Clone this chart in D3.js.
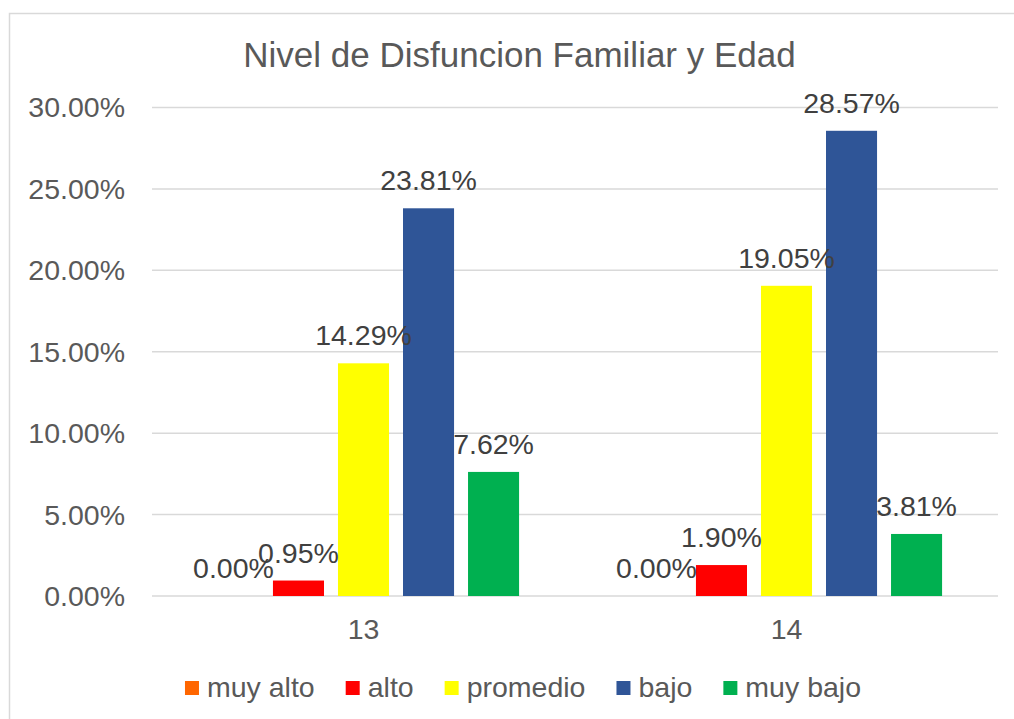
<!DOCTYPE html>
<html>
<head>
<meta charset="utf-8">
<script src="https://cdn.jsdelivr.net/npm/d3@7"></script>
<style>
  body { margin: 0; background: #fff; }
  text { font-family: "Liberation Sans", Arial, sans-serif; }
</style>
</head>
<body>
<div id="chart"></div>
<script>
const categories = ['13', '14'];
const seriesNames = ['muy alto', 'alto', 'promedio', 'bajo', 'muy bajo'];
const values13 = [0, 0.95, 14.29, 23.81, 7.62];
const values14 = [0, 1.90, 19.05, 28.57, 3.81];
const yTicks = [0, 5, 10, 15, 20, 25, 30];
const colors = ['#FF6600', '#FF0000', '#FFFF00', '#2F5597', '#00B050'];

const width = 1014;
const height = 719;
const margin = { top: 107.5, right: 16, bottom: 123, left: 152 };

const svg = d3.select('#chart')
  .append('svg')
  .attr('width', width)
  .attr('height', height);

// chart border
svg.append('rect')
  .attr('x', 9.5).attr('y', 13.5)
  .attr('width', 1030).attr('height', 730)
  .attr('fill', 'none')
  .attr('stroke', '#d9d9d9')
  .attr('stroke-width', 1.5);

// title
svg.append('text')
  .attr('x', 519.5).attr('y', 67)
  .attr('text-anchor', 'middle')
  .attr('fill', '#595959')
  .attr('font-size', 35)
  .text('Nivel de Disfuncion Familiar y Edad');

const rows = categories.map((c, i) => ({
  cat: c,
  values: (i === 0 ? values13 : values14).map((v, j) => ({ name: seriesNames[j], value: v, color: colors[j] }))
}));

// scales
const x0 = d3.scaleBand()
  .domain(categories)
  .range([margin.left, width - margin.right]);

const x1 = d3.scaleBand()
  .domain(seriesNames)
  .range([0, x0.bandwidth()])
  .paddingInner(0.215)
  .paddingOuter(0.86);

const y = d3.scaleLinear()
  .domain([0, 30])
  .range([height - margin.bottom, margin.top]);

// gridlines
svg.append('g')
  .selectAll('line')
  .data(yTicks)
  .enter()
  .append('line')
  .attr('x1', margin.left)
  .attr('x2', width - margin.right)
  .attr('y1', (d) => y(d))
  .attr('y2', (d) => y(d))
  .attr('stroke', '#d9d9d9')
  .attr('stroke-width', 1.5);

// y tick labels
svg.append('g')
  .selectAll('text')
  .data(yTicks)
  .enter()
  .append('text')
  .attr('x', 125)
  .attr('y', (d) => y(d))
  .attr('dy', '0.35em')
  .attr('text-anchor', 'end')
  .attr('fill', '#595959')
  .attr('font-size', 28.5)
  .text((d) => d3.format('.2f')(d) + '%');

// bars
const groups = svg.append('g')
  .selectAll('g')
  .data(rows)
  .enter()
  .append('g')
  .attr('transform', (d) => `translate(${x0(d.cat)},0)`);

groups.selectAll('rect')
  .data((d) => d.values)
  .enter()
  .append('rect')
  .attr('x', (d) => x1(d.name))
  .attr('y', (d) => y(d.value))
  .attr('width', x1.bandwidth())
  .attr('height', (d) => y(0) - y(d.value))
  .attr('fill', (d) => d.color);

// data labels
groups.selectAll('text')
  .data((d) => d.values)
  .enter()
  .append('text')
  .attr('x', (d) => x1(d.name) + x1.bandwidth() / 2)
  .attr('y', (d) => y(d.value) - 18)
  .attr('text-anchor', 'middle')
  .attr('fill', '#404040')
  .attr('font-size', 28.5)
  .text((d) => d3.format('.2f')(d.value) + '%');

// category labels
svg.append('g')
  .selectAll('text')
  .data(categories)
  .enter()
  .append('text')
  .attr('x', (d) => x0(d) + x0.bandwidth() / 2)
  .attr('y', 639)
  .attr('text-anchor', 'middle')
  .attr('fill', '#595959')
  .attr('font-size', 28.5)
  .text((d) => d);

// legend
const legend = svg.append('g');
const items = legend.selectAll('g')
  .data(seriesNames)
  .enter()
  .append('g');

items.append('rect')
  .attr('width', 14)
  .attr('height', 14)
  .attr('y', 681)
  .attr('fill', (_, i) => colors[i]);

items.append('text')
  .attr('x', 22)
  .attr('y', 697)
  .attr('fill', '#595959')
  .attr('font-size', 28.5)
  .text((d) => d);

const gap = 31;
let offset = 0;
const positions = [];
items.each(function () {
  const w = 22 + d3.select(this).select('text').node().getComputedTextLength();
  positions.push(offset);
  offset += w + gap;
});
const total = offset - gap;
const startX = 523 - total / 2;
items.attr('transform', (_, i) => `translate(${startX + positions[i]},0)`);
</script>
</body>
</html>
